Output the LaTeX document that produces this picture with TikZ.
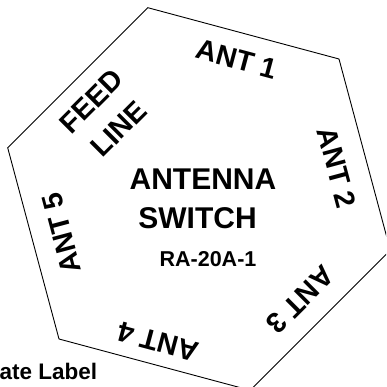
\documentclass[tikz,border=0pt]{standalone}
\usepackage{fontspec}
\setmainfont{Liberation Sans}
\begin{document}
\begin{tikzpicture}[x=1pt,y=1pt,
  edge/.style={draw=black, line width=0.9pt, line join=miter},
  lbl/.style={font=\bfseries\fontsize{28.5}{39}\selectfont, inner sep=0pt, align=center},
  title/.style={font=\bfseries\fontsize{30}{34}\selectfont, inner sep=0pt},
  model/.style={font=\bfseries\fontsize{21.5}{26}\selectfont, inner sep=0pt},
  plate/.style={font=\bfseries\fontsize{22.5}{26}\selectfont, inner sep=0pt}]
\useasboundingbox (0,0) rectangle (386,387);
\clip (0,0) rectangle (386,387);
\coordinate (v1) at (339.0,328.0);
\coordinate (v2) at (147.8,379.3);
\coordinate (v3) at (7.7,239.2);
\coordinate (v4) at (59.0,48.0);
\coordinate (v5) at (250.2,-3.3);
\coordinate (v6) at (390.3,136.8);
\draw[edge] (v1) -- (v2) -- (v3) -- (v4) -- (v5) -- (v6) -- cycle;
\node[title] (t1) at (203,207.5) {ANTENNA};
\node[title] (t2) at (197.5,168.5) {SWITCH};
\node[model] (m) at (208,127.5) {RA-20A-1};
\node[lbl, rotate=-15] (a1) at (237,328) {ANT 1};
\node[lbl, rotate=-75] (a2) at (337,219) {ANT 2};
\node[lbl, rotate=-135] (a3) at (300,87) {ANT 3};
\node[lbl, rotate=165] (a4) at (158,45) {ANT 4};
\node[lbl, rotate=105] (a5) at (62,154) {ANT 5};
\node[lbl, rotate=45] (fl) at (105,272) {FEED\\LINE};
\node[plate, anchor=base west] (pl) at (-0.5,8) {ate Label};
\end{tikzpicture}
\end{document}
